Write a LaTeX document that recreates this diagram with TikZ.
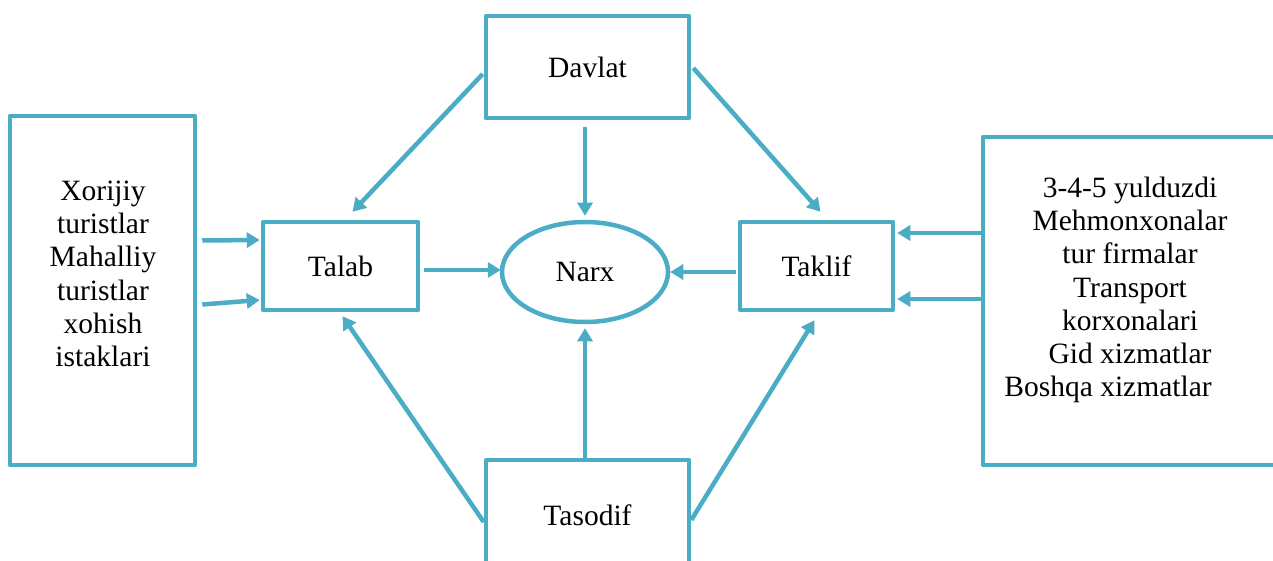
\documentclass[tikz,border=0pt]{standalone}
\usepackage{fontspec}
\IfFontExistsTF{LiberationSerif-Regular.ttf}
  {\setmainfont{LiberationSerif-Regular.ttf}}
  {\setmainfont{Liberation Serif}}
\usetikzlibrary{arrows.meta,shapes.geometric,calc}
\definecolor{boxblue}{HTML}{4BACC6}
\begin{document}
\begin{tikzpicture}[x=1pt,y=-1pt,
  box/.style={draw=boxblue,line width=4.5pt,line join=round,rectangle,fill=white,
    font=\rmfamily\fontsize{29.5}{33.3}\selectfont,inner sep=0pt},
  oval/.style={draw=boxblue,line width=4.5pt,ellipse,fill=white,
    font=\rmfamily\fontsize{29.5}{33.3}\selectfont,inner sep=0pt},
  txt/.style={font=\rmfamily\fontsize{29.5}{33.3}\selectfont,align=center,inner sep=0pt},
  arr/.style={draw=boxblue,line width=4.5pt,-{Triangle[length=13pt,width=15pt]}}]
\useasboundingbox (0,0) rectangle (1273,561);
\clip (0,0) rectangle (1273,561);
\fill[white] (0,0) rectangle (1273,561);

% boxes
\node[box,minimum width=203pt,minimum height=102pt] (davlat) at (587.5,67) {\raisebox{-3pt}{Davlat}};
\node[box,minimum width=185pt,minimum height=349pt] (demand) at (102.5,290.5) {};
\node[txt] at (103,274) {Xorijiy\\turistlar\\Mahalliy\\turistlar\\xohish\\istaklari};
\node[box,minimum width=155pt,minimum height=88pt] (talab) at (340.5,266) {\raisebox{-2pt}{Talab}};
\node[oval,minimum width=166pt,minimum height=100pt] (narx) at (585,272) {Narx};
\node[box,minimum width=153pt,minimum height=88pt] (taklif) at (816.5,266) {\raisebox{-3pt}{Taklif}};
\node[box,minimum width=320pt,minimum height=328pt] (supply) at (1143,301) {};
\node[txt] at (1130,290) {3-4-5 yulduzdi\\Mehmonxonalar\\tur firmalar\\Transport\\korxonalari\\Gid xizmatlar\\Boshqa xizmatlar\hspace*{44pt}};
\node[box,minimum width=203pt,minimum height=110pt] (tasodif) at (587.5,515) {Tasodif};

% arrows from the state
\draw[arr] ($(davlat.west)+(-1,7)$) -- ($(talab.north)+(12,-8)$);
\draw[arr] ($(davlat.south)+(-2.5,7)$) -- ($(narx.north)+(0,-4)$);
\draw[arr] ($(davlat.east)+(2,1)$) -- ($(taklif.north)+(4,-8)$);

% demand side
\draw[arr] ($(demand.east)+(5,-50)$) -- ($(talab.west)+(-1,-26)$);
\draw[arr] ($(demand.east)+(5,14)$) -- ($(talab.west)+(-1,34)$);
\draw[arr] ($(talab.east)+(4,4)$) -- ($(narx.west)+(1,-2)$);

% supply side
\draw[arr] ($(supply.west)+(0,-68)$) -- ($(taklif.east)+(2,-33)$);
\draw[arr] ($(supply.west)+(0,-2)$) -- ($(taklif.east)+(2,33)$);
\draw[arr] ($(taklif.west)+(-2,6)$) -- ($(narx.east)+(0,0)$);

% random factors
\draw[arr] ($(tasodif.north)+(-2.5,0)$) -- ($(narx.south)+(0,4)$);
\draw[arr] ($(tasodif.west)+(0,7)$) -- ($(talab.south)+(2,4)$);
\draw[arr] ($(tasodif.east)+(0,5)$) -- ($(taklif.south)+(-2,8)$);
\end{tikzpicture}
\end{document}
